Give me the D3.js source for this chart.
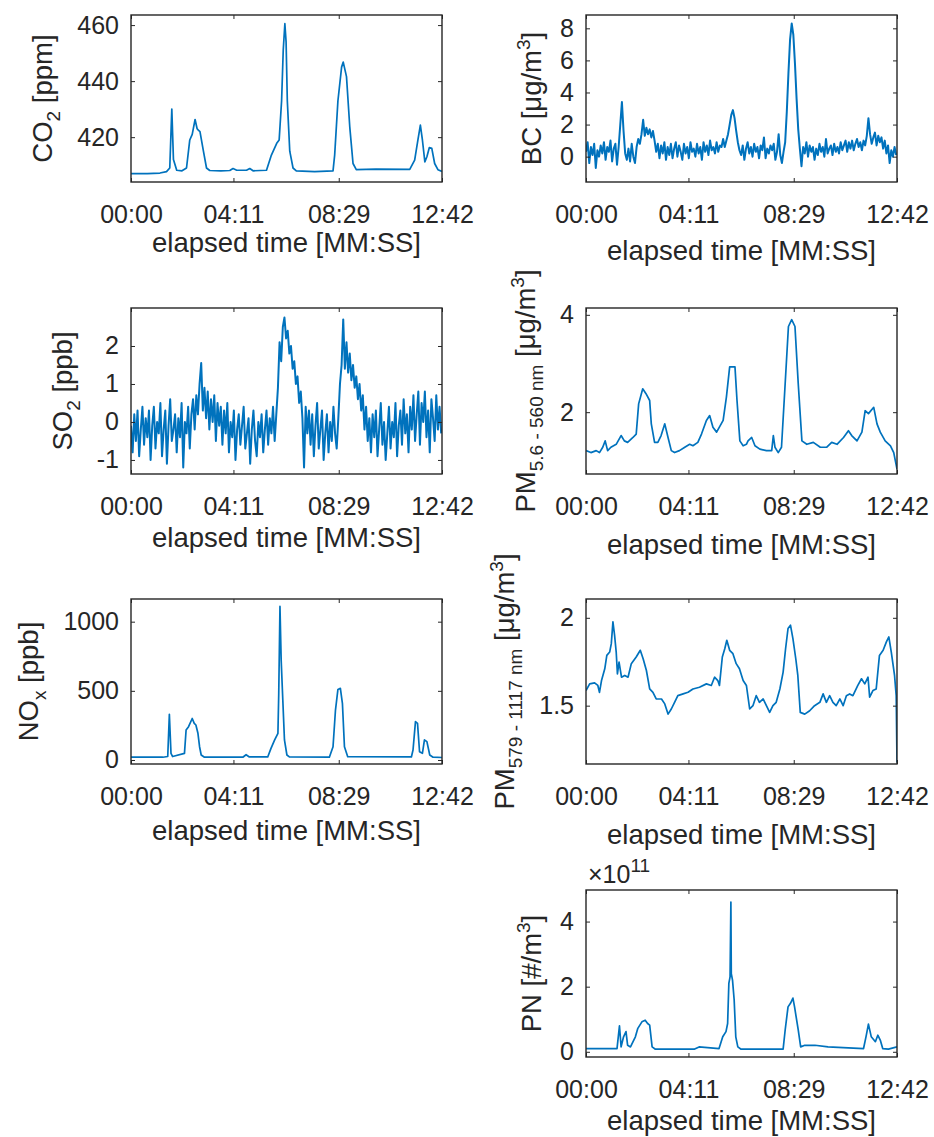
<!DOCTYPE html>
<html>
<head>
<meta charset="utf-8">
<script src="https://cdn.jsdelivr.net/npm/d3@7"></script>
<style>
  body { margin: 0; background: #fff; }
  svg text { font-family: "Liberation Sans", Arial, sans-serif; fill: #262626; }
</style>
</head>
<body>
<div id="chart"></div>
<script>
// elapsed time axis, seconds
var xTickValues = [0, 251, 509, 762];
var xTickLabels = ["00:00", "04:11", "08:29", "12:42"];

// CO2 [ppm]
var co2Time = [0,40,71,87,95,100,104,112,125,136,144,150,157,162,165,169,177,185,193,220,242,250,259,283,291,299,332,344,357,363,369,373,377,380,383,389,397,405,450,495,499,507,516,520,528,536,544,552,600,683,695,703,709,714,720,725,731,737,744,752,762];
var co2Values = [407.0,407.0,407.2,407.7,409,430,412,408.2,408.0,409,419,421,426.3,423,422.5,422,415.4,409,408.1,408.0,408.1,408.8,408.2,408.2,408.8,408.0,408.2,413.6,417.8,419,433,451,460.5,454,433,415,409,408.0,407.7,408,413.6,433,445,446.8,441.6,423.7,410.6,408.4,408.6,408.5,411.8,419,424.3,419,411.2,413,416.3,416.0,410.6,408.4,407.8];
var co2Ticks = [420, 440, 460];

// NOx [ppb]
var noxTime = [0,78,90,94,98,102,131,135,141,150,155,159,164,168,172,180,274,282,290,335,343,352,360,362,365,368,372,376,382,388,486,495,501,507,513,518,523,531,687,691,697,702,707,714,719,725,732,740,762];
var noxValues = [20,20,25,330,48,25,48,217,241,300,265,253,193,96,36,20,20,38,22,22,84,145,193,480,1110,720,430,145,36,22,20,96,361,510,518,410,96,24,22,72,277,265,60,48,145,133,36,20,18];
var noxTicks = [0, 500, 1000];

// SO2 [ppb], one reading every 4 s
var so2Step = 4;
var so2Values = [
  -0.1,-0.8,0.2,-0.5,0.3,-0.9,-0.2,0.4,-0.6,0.1,
  -0.4,0.3,-1.0,-0.1,0.4,-0.7,0.0,-0.3,0.5,-0.9,
  -0.2,0.3,-1.1,-0.1,0.6,-0.5,-0.2,0.2,-0.8,0.1,
  -0.4,0.5,-1.2,0.0,-0.3,0.4,-0.7,0.2,0.6,-0.2,
  0.7,0.2,1.0,1.55,0.3,0.9,0.1,0.8,-0.2,0.6,
  0.0,0.7,-0.5,0.5,-0.1,0.4,-0.6,0.3,-0.3,0.5,
  -0.8,0.0,-0.4,0.3,-1.0,-0.2,0.2,-0.6,-0.1,0.4,
  -0.7,-0.3,0.1,-1.1,-0.2,0.3,-0.5,-0.9,0.0,-0.4,
  0.2,-0.8,-0.2,0.3,-0.6,0.1,-0.3,0.4,-0.5,0.2,
  0.9,2.1,1.6,2.5,2.75,2.2,2.4,1.8,2.0,1.4,
  1.6,1.0,1.2,0.5,0.8,0.1,-1.2,0.4,-0.3,0.3,
  -0.6,0.2,-0.9,-0.1,0.5,-0.7,-0.2,0.3,-1.0,-0.3,
  0.2,-0.8,0.0,-0.5,0.4,-0.3,-0.7,0.1,1.0,1.5,
  2.7,1.4,2.1,1.3,1.8,1.1,1.5,0.9,1.2,0.6,
  1.0,0.3,0.7,-0.2,0.4,-0.5,0.1,-0.8,0.2,-0.4,
  0.3,-0.9,-0.2,0.5,-0.6,0.0,-1.0,-0.3,0.4,-0.7,
  0.0,-0.4,0.5,-0.9,-0.1,0.3,-0.6,0.6,-0.3,0.2,
  -0.8,0.4,-0.2,0.7,-0.5,0.2,0.8,-0.6,0.5,0.0,
  0.8,-0.4,0.3,-0.8,0.6,0.1,-0.5,0.7,-0.2,0.4,
  -0.3
];
var so2Ticks = [-1, 0, 1, 2];

// BC [ug/m3], one reading every 4 s
var bcStep = 4;
var bcValues = [
  0.3,0.9,-0.4,0.6,0.1,0.8,-0.7,0.4,0.0,0.7,
  0.2,0.9,-0.2,0.6,0.3,1.0,-0.3,0.5,0.8,-0.5,
  0.6,2.0,3.4,1.6,0.2,-0.2,0.5,-0.3,0.8,0.0,
  -0.4,0.6,1.1,0.8,1.4,2.3,1.3,1.8,1.4,1.7,
  1.2,1.6,1.0,0.3,0.8,-0.1,0.7,0.2,0.9,-0.2,
  0.6,0.1,0.8,-0.1,0.5,0.9,0.0,0.7,0.3,-0.2,
  0.8,0.2,0.6,-0.1,0.9,0.3,0.5,0.0,0.8,0.2,
  0.6,-0.2,0.9,0.3,0.7,0.1,1.0,0.4,0.6,0.2,
  0.9,0.3,0.7,0.6,1.1,0.6,1.0,1.4,2.0,2.6,
  2.9,2.4,1.6,0.9,0.4,0.1,0.7,-0.2,0.5,0.9,
  0.2,0.6,0.0,0.8,0.3,0.6,-0.1,0.7,0.4,1.2,
  -0.1,0.5,0.2,0.7,0.4,0.8,-0.2,0.3,1.4,0.1,
  -0.4,0.3,0.9,2.8,5.2,7.3,8.3,7.6,5.8,3.6,
  1.7,0.5,-0.6,0.6,0.2,0.9,0.0,0.7,0.3,0.6,
  -0.2,0.5,0.1,0.8,0.3,0.6,0.0,1.1,0.2,0.5,
  0.7,0.1,0.8,0.3,0.6,0.2,0.9,0.4,0.7,1.0,
  0.3,0.9,0.5,1.0,0.4,0.8,1.1,0.6,0.9,0.4,
  1.0,0.7,1.3,2.4,1.4,0.8,1.2,1.5,0.7,1.3,
  0.9,1.2,0.5,1.0,0.2,0.7,-0.4,0.4,0.0,0.6,
  0.1
];
var bcTicks = [0, 2, 4, 6, 8];

// PM 5.6 - 560 nm [ug/m3]
var pmFineTime = [0,12,25,33,41,47,53,61,74,86,94,102,115,123,129,139,147,156,160,168,176,184,193,201,209,217,229,242,254,262,274,283,295,303,311,320,336,344,352,365,370,377,385,393,397,406,414,426,442,455,459,463,471,479,488,496,504,512,520,529,541,557,574,590,602,615,631,643,651,664,676,684,692,705,713,721,733,746,754,762];
var pmFineValues = [1.21,1.17,1.21,1.17,1.28,1.41,1.21,1.28,1.34,1.52,1.41,1.38,1.48,1.55,2.17,2.48,2.38,2.24,1.76,1.38,1.38,1.52,1.76,1.48,1.21,1.17,1.21,1.28,1.34,1.31,1.38,1.55,1.83,1.93,1.69,1.59,1.83,2.31,2.93,2.93,2.24,1.41,1.31,1.34,1.41,1.48,1.31,1.24,1.21,1.21,1.52,1.28,1.17,1.28,2.59,3.76,3.90,3.76,2.59,1.41,1.34,1.38,1.28,1.28,1.38,1.34,1.48,1.62,1.52,1.41,1.59,2.03,1.97,2.10,1.76,1.59,1.41,1.31,1.17,0.83];
var pmFineTicks = [2, 4];

// PM 579 - 1117 nm [ug/m3]
var pmCoarseTime = [0,9,21,29,33,38,46,51,58,62,66,70,74,77,81,87,95,103,111,123,133,140,148,156,164,172,185,193,201,209,217,225,238,250,262,278,295,307,315,323,327,334,340,345,352,360,368,376,385,393,401,409,417,425,434,442,450,458,466,475,483,489,495,501,507,514,519,525,536,548,560,573,581,589,597,605,613,622,630,638,646,654,666,675,683,691,695,703,711,719,728,736,742,748,756,760,762];
var pmCoarseValues = [1.586,1.624,1.630,1.615,1.576,1.643,1.710,1.786,1.805,1.853,1.977,1.901,1.805,1.681,1.748,1.662,1.672,1.662,1.739,1.777,1.815,1.767,1.700,1.595,1.576,1.538,1.538,1.510,1.452,1.481,1.519,1.557,1.567,1.576,1.595,1.605,1.624,1.615,1.662,1.643,1.615,1.777,1.824,1.872,1.815,1.796,1.739,1.710,1.643,1.615,1.481,1.500,1.557,1.519,1.538,1.500,1.462,1.500,1.519,1.595,1.691,1.824,1.939,1.958,1.882,1.767,1.672,1.462,1.452,1.471,1.500,1.519,1.567,1.519,1.557,1.519,1.500,1.538,1.500,1.557,1.567,1.557,1.615,1.653,1.624,1.662,1.548,1.586,1.595,1.786,1.815,1.863,1.891,1.805,1.672,1.557,1.176];
var pmCoarseTicks = [1.5, 2];

// PN [#/m3], x 10^11
var pnTime = [0,76,82,86,92,98,102,109,121,127,137,145,151,156,162,170,265,277,326,335,343,347,350,353,355,356,359,363,367,372,380,483,488,495,501,507,511,520,526,536,561,593,680,686,692,699,709,715,721,727,741,762];
var pnValues = [0.10,0.10,0.80,0.15,0.46,0.62,0.2,0.15,0.46,0.72,0.92,0.97,0.87,0.82,0.15,0.08,0.08,0.15,0.10,0.46,0.62,0.87,2.1,2.3,4.6,2.4,2.2,1.6,0.46,0.15,0.08,0.08,0.67,1.38,1.49,1.65,1.38,0.67,0.15,0.2,0.2,0.15,0.10,0.46,0.85,0.46,0.31,0.51,0.36,0.10,0.08,0.15];
var pnTicks = [0, 2, 4];

var W = 934, H = 1137;
var cols = [[131, 442], [586, 897]];
var rows = [[15, 182], [308, 474], [599, 764], [890, 1057]];
var lineColor = "#0072BD";

function series(times, values) {
    return times.map(function(t, i) { return [t, values[i]]; });
}
function sampled(values, step) {
    return values.map(function(v, i) { return [i * step, v]; });
}

var panels = [
    {col: 0, row: 0, data: series(co2Time, co2Values), domain: [404, 463.6], ticks: co2Ticks, xlab: 70,
     label: [{t: "CO"}, {t: "2", k: "sub"}, {t: " [ppm]"}]},
    {col: 0, row: 1, data: sampled(so2Values, so2Step), domain: [-1.37, 3.0], ticks: so2Ticks, xlab: 73, noisy: true,
     label: [{t: "SO"}, {t: "2", k: "sub"}, {t: " [ppb]"}]},
    {col: 0, row: 2, data: series(noxTime, noxValues), domain: [-29, 1164], ticks: noxTicks, xlab: 76,
     label: [{t: "NO"}, {t: "x", k: "sub"}, {t: " [ppb]"}]},
    {col: 1, row: 0, data: sampled(bcValues, bcStep), domain: [-1.58, 8.83], ticks: bcTicks, xlab: 78, noisy: true,
     label: [{t: "BC [\u03bcg/m"}, {t: "3", k: "sup"}, {t: "]"}]},
    {col: 1, row: 1, data: series(pmFineTime, pmFineValues), domain: [0.73, 4.14], ticks: pmFineTicks, xlab: 80,
     label: [{t: "PM"}, {t: "5.6 - 560 nm", k: "sub"}, {t: " [\u03bcg/m"}, {t: "3", k: "sup"}, {t: "]"}]},
    {col: 1, row: 2, data: series(pmCoarseTime, pmCoarseValues), domain: [1.168, 2.107], ticks: pmCoarseTicks, xlab: 80,
     label: [{t: "PM"}, {t: "579 - 1117 nm", k: "sub"}, {t: " [\u03bcg/m"}, {t: "3", k: "sup"}, {t: "]"}]},
    {col: 1, row: 3, data: series(pnTime, pnValues), domain: [-0.16, 4.97], ticks: pnTicks, xlab: 73, exponent: "11",
     label: [{t: "PN [#/m"}, {t: "3", k: "sup"}, {t: "]"}]}
];

var svg = d3.select("#chart").append("svg")
    .attr("width", W)
    .attr("height", H);
svg.append("rect").attr("width", W).attr("height", H).attr("fill", "#fff");

// writes label parts as tspans, sub/superscripts shifted with dy
function writeParts(text, parts) {
    var shift = 0;
    parts.forEach(function(p) {
        var target = p.k === "sub" ? 8 : (p.k === "sup" ? -11 : 0);
        var ts = text.append("tspan").text(p.t).attr("dy", target - shift);
        if (p.k) ts.attr("font-size", 19);
        shift = target;
    });
}

panels.forEach(function(p, idx) {
    var x0 = cols[p.col][0], x1 = cols[p.col][1];
    var y0 = rows[p.row][0], y1 = rows[p.row][1];

    var x = d3.scaleLinear().domain([0, 762]).range([x0, x1]);
    var y = d3.scaleLinear().domain(p.domain).range([y1, y0]);

    var g = svg.append("g").attr("class", "panel");

    g.append("clipPath").attr("id", "clip" + idx)
      .append("rect")
        .attr("x", x0).attr("y", y0)
        .attr("width", x1 - x0).attr("height", y1 - y0);

    var line = d3.line()
        .x(function(d) { return x(d[0]); })
        .y(function(d) { return y(d[1]); });

    g.append("path")
        .datum(p.data)
        .attr("clip-path", "url(#clip" + idx + ")")
        .attr("fill", "none")
        .attr("stroke", lineColor)
        .attr("stroke-width", p.noisy ? 2 : 1.7)
        .attr("stroke-linejoin", "round")
        .attr("d", line);

    // axes, ticks pointing inward on all four sides
    var xa = g.append("g")
        .attr("transform", "translate(0," + y1 + ")")
        .call(d3.axisBottom(x).tickValues(xTickValues)
            .tickFormat(function(d, i) { return xTickLabels[i]; })
            .tickSize(-4).tickPadding(23));
    g.append("g")
        .attr("transform", "translate(0," + y0 + ")")
        .call(d3.axisTop(x).tickValues(xTickValues).tickFormat("").tickSize(-4));
    var ya = g.append("g")
        .attr("transform", "translate(" + x0 + ",0)")
        .call(d3.axisLeft(y).tickValues(p.ticks)
            .tickFormat(function(d) { return String(d); })
            .tickSize(-4).tickPadding(12));
    g.append("g")
        .attr("transform", "translate(" + x1 + ",0)")
        .call(d3.axisRight(y).tickValues(p.ticks).tickFormat("").tickSize(-4));

    g.selectAll(".domain").remove();
    g.selectAll(".tick line").attr("stroke", "#262626");
    xa.attr("font-size", 25);
    ya.attr("font-size", 25);

    g.append("rect")
        .attr("x", x0).attr("y", y0)
        .attr("width", x1 - x0).attr("height", y1 - y0)
        .attr("fill", "none")
        .attr("stroke", "#262626")
        .attr("stroke-width", 1.4);

    // x label
    g.append("text")
        .attr("x", (x0 + x1) / 2)
        .attr("y", y1 + p.xlab)
        .attr("text-anchor", "middle")
        .attr("font-size", 27.5)
        .text("elapsed time [MM:SS]");

    // y label, placed left of the widest tick label
    var tickMin = d3.min(ya.selectAll("text").nodes(), function(n) { return x0 + n.getBBox().x; });
    var lab = g.append("text")
        .attr("text-anchor", "middle")
        .attr("font-size", 27.5);
    writeParts(lab, p.label);
    var bb = lab.node().getBBox();
    var tx = tickMin - 13 - (bb.y + bb.height);
    var ty = (y0 + y1) / 2 + (bb.x + bb.width / 2);
    lab.attr("transform", "translate(" + tx + "," + ty + ") rotate(-90)");

    if (p.exponent) {
        var ex = g.append("text")
            .attr("x", x0 + 2)
            .attr("y", y0 - 7)
            .attr("font-size", 25);
        ex.append("tspan").text("\u00d710");
        ex.append("tspan").text(p.exponent).attr("font-size", 19).attr("dy", -11);
    }
});
</script>
</body>
</html>
